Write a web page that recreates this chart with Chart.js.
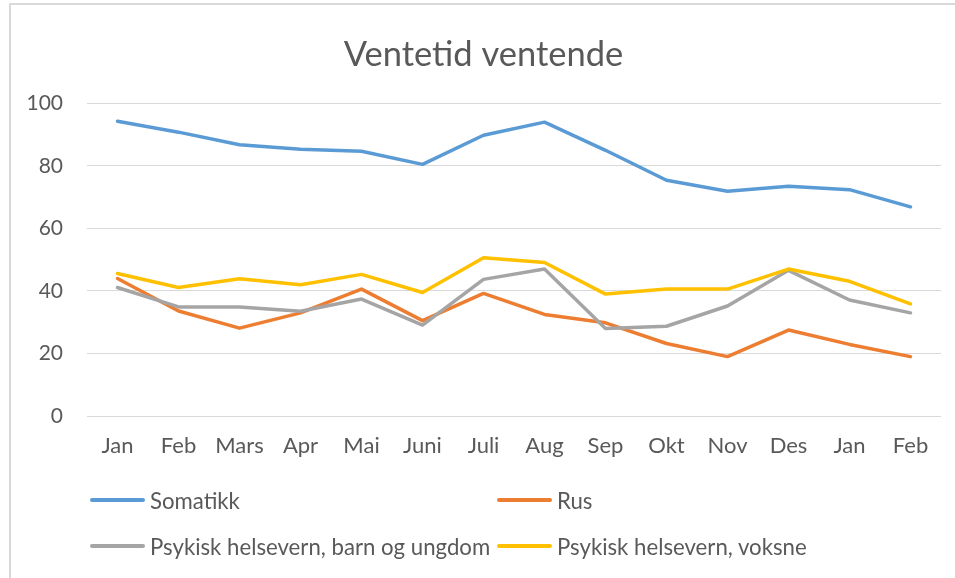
<!DOCTYPE html>
<html>
<head>
<meta charset="utf-8">
<script src="https://cdn.jsdelivr.net/npm/chart.js@4"></script>
<style>
  html, body { margin: 0; padding: 0; background: #fff; }
  body { width: 955px; height: 578px; position: relative; overflow: hidden; font-family: Lato, "Open Sans", sans-serif; }
  #frame { position: absolute; left: 9px; top: 3px; width: 1000px; height: 700px; border-left: 2px solid #d9d9d9; border-top: 2px solid #d9d9d9; box-sizing: border-box; }
  #c { position: absolute; left: 0; top: 0; }
  #legend { position: absolute; left: 90px; top: 486px; width: 800px; }
  .item { position: absolute; display: flex; align-items: center; height: 28px; font-size: 22.2px; color: #595959; white-space: nowrap; }
  .swatch { display: inline-block; width: 55px; height: 4px; border-radius: 2px; margin-right: 5px; }
</style>
</head>
<body>
<div id="frame"></div>
<canvas id="c" width="955" height="578"></canvas>
<div id="legend"></div>
<script>
const titleText = 'Ventetid ventende';
const months = ['Jan','Feb','Mars','Apr','Mai','Juni','Juli','Aug','Sep','Okt','Nov','Des','Jan','Feb'];
const seriesNames = ['Somatikk', 'Rus', 'Psykisk helsevern, barn og ungdom', 'Psykisk helsevern, voksne'];
const somatikk = [94.3, 90.8, 86.8, 85.3, 84.7, 80.5, 89.8, 94.0, 85.0, 75.4, 71.9, 73.5, 72.4, 66.9];
const rus      = [44.0, 33.6, 28.1, 33.0, 40.6, 30.5, 39.2, 32.5, 29.8, 23.2, 19.0, 27.5, 22.9, 19.0];
const bup      = [41.1, 34.9, 34.9, 33.5, 37.4, 29.1, 43.7, 47.0, 28.0, 28.7, 35.2, 46.6, 37.1, 33.0];
const voksne   = [45.6, 41.1, 43.9, 42.0, 45.3, 39.5, 50.6, 49.1, 39.0, 40.6, 40.6, 47.0, 43.1, 35.9];
const yTicks = [0, 20, 40, 60, 80, 100];
const colors = ['#5b9bd5', '#ed7d31', '#a5a5a5', '#ffc000'];

const values = [somatikk, rus, bup, voksne];
const datasets = values.map((v, i) => ({
  label: seriesNames[i],
  data: v,
  borderColor: colors[i],
  backgroundColor: colors[i],
  borderWidth: 3.5,
  pointRadius: 0,
  pointHoverRadius: 0,
  tension: 0,
  fill: false,
  borderCapStyle: 'round',
  borderJoinStyle: 'round',
  order: values.length - i
}));

const textColor = '#595959';
new Chart(document.getElementById('c'), {
  type: 'line',
  data: { labels: months, datasets },
  options: {
    responsive: false,
    animation: false,
    devicePixelRatio: 1,
    layout: { padding: { left: 26, right: 14, top: 0, bottom: 0 } },
    plugins: {
      legend: { display: false },
      tooltip: { enabled: false },
      title: {
        display: true,
        text: titleText,
        color: textColor,
        font: { family: 'Lato', size: 34.5, weight: 'normal' },
        padding: { top: 34, bottom: 28 }
      }
    },
    scales: {
      x: {
        offset: true,
        grid: { display: false, drawTicks: false },
        border: { display: false },
        ticks: { color: textColor, font: { family: 'Lato', size: 22 }, padding: 17, maxRotation: 0, autoSkip: false },
        afterFit: s => { s.height = 162; }
      },
      y: {
        min: 0, max: 100,
        afterBuildTicks: s => { s.ticks = yTicks.map(v => ({ value: v })); },
        grid: { color: '#d9d9d9', lineWidth: 1, drawTicks: false },
        border: { display: false },
        ticks: { color: textColor, font: { family: 'Lato', size: 21 }, padding: 24 },
        afterFit: s => { s.width = 61; }
      }
    }
  }
});

const legend = document.getElementById('legend');
const colX = [0, 407];
const rowY = [0, 46];
seriesNames.forEach((name, i) => {
  const el = document.createElement('div');
  el.className = 'item';
  el.style.left = colX[i % 2] + 'px';
  el.style.top = rowY[Math.floor(i / 2)] + 'px';
  const sw = document.createElement('span');
  sw.className = 'swatch';
  sw.style.background = colors[i];
  const tx = document.createElement('span');
  tx.textContent = name;
  el.appendChild(sw); el.appendChild(tx);
  legend.appendChild(el);
});
</script>
</body>
</html>
